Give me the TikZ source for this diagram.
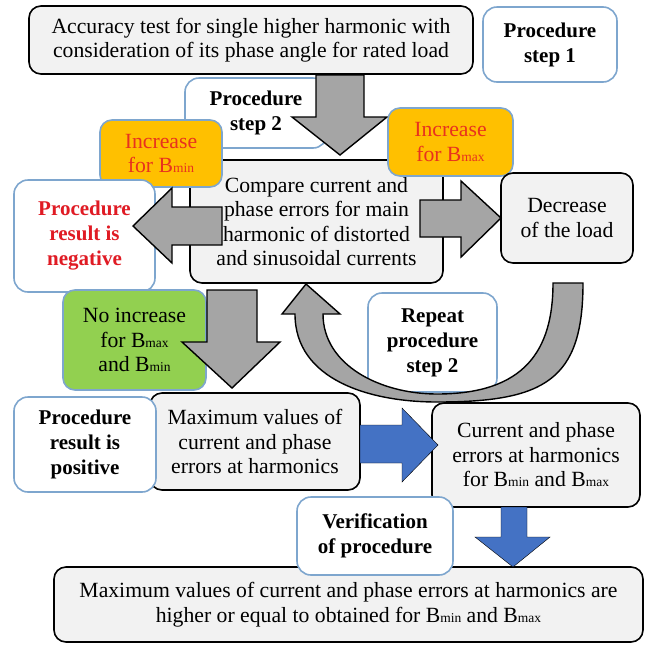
\documentclass[tikz,border=0pt]{standalone}
\usepackage{fontspec}
\setmainfont{Liberation Serif}
\definecolor{boxgray}{HTML}{F2F2F2}
\definecolor{bluebd}{HTML}{7EA6CE}
\definecolor{arrgray}{HTML}{A5A5A5}
\definecolor{arrblue}{HTML}{4472C4}
\definecolor{orangefill}{HTML}{FFC000}
\definecolor{greenfill}{HTML}{92D050}
\definecolor{redtxt}{HTML}{E01B24}
\definecolor{orgtxt}{HTML}{E8321E}
\newcommand{\Bs}[1]{B{\fontsize{13.5pt}{13.5pt}\selectfont #1}}
\begin{document}
\begin{tikzpicture}[x=1pt,y=-1pt,
  graybox/.style={draw=black, line width=1.6pt, fill=boxgray, rounded corners=12pt,
    align=center, inner sep=0pt, font=\fontsize{21.7}{24.5}\selectfont},
  bluebox/.style={draw=bluebd, line width=1.6pt, fill=white, rounded corners=14pt,
    align=center, inner sep=0pt, font=\bfseries\fontsize{21}{25}\selectfont},
  colbox/.style={draw=bluebd, line width=1.6pt, rounded corners=12pt,
    align=center, inner sep=0pt, font=\fontsize{21.7}{24.5}\selectfont},
  garrow/.style={draw=black, line width=1.4pt, fill=arrgray, line join=miter},
  barrow/.style={fill=arrblue}]
\useasboundingbox (0,0) rectangle (650,646);
% top row
\node[graybox, minimum width=444pt, minimum height=68pt] (top) at (251,40)
  {Accuracy test for single higher harmonic with\\consideration of its phase angle for rated load};
\node[bluebox, minimum width=134pt, minimum height=75pt] (step1) at (550,44.5) {Procedure\\step 1};
\node[bluebox, minimum width=142pt, minimum height=70pt] (step2) at (256,113) {Procedure\\step 2};
% arrow top -> center
\draw[garrow] (316,75) -- (364,75) -- (364,117) -- (387,117) -- (340,155) -- (292,117) -- (316,117) -- cycle;
% center box
\node[graybox, minimum width=253pt, minimum height=123pt] (center) at (316.5,221.5)
  {Compare current and\\phase errors for main\\harmonic of distorted\\and sinusoidal currents};
\node[colbox, fill=orangefill, text=orgtxt, minimum width=122pt, minimum height=67pt] (bmin) at (161,153.5)
  {Increase\\for \Bs{min}};
\node[colbox, fill=orangefill, text=orgtxt, minimum width=125pt, minimum height=68pt] (bmax) at (450.5,142)
  {Increase\\for \Bs{max}};
\node[bluebox, text=redtxt, minimum width=141pt, minimum height=112pt] (neg) at (84.5,236)
  {Procedure\\result is\\negative};
% left arrow
\draw[garrow] (222,207) -- (222,245) -- (172,245) -- (172,263) -- (133,226) -- (172,188) -- (172,207) -- cycle;
% decrease box and right arrow
\node[graybox, minimum width=132pt, minimum height=90pt] (dec) at (567,218) {Decrease\\of the load};
\draw[garrow] (420,200) -- (461,200) -- (461,181) -- (501,218) -- (461,257) -- (461,237) -- (420,237) -- cycle;
% green box and down arrow
\node[colbox, fill=greenfill, minimum width=143pt, minimum height=100pt] (green) at (134.5,340)
  {No increase\\for \Bs{max}\\and \Bs{min}};
\draw[garrow] (207,290) -- (257,290) -- (257,342) -- (280,342) -- (232,388) -- (182,342) -- (207,342) -- cycle;
% repeat box and curved arrow
\node[bluebox, minimum width=129pt, minimum height=99pt] (rep) at (432.5,342.5) {Repeat\\procedure\\step 2};
\draw[garrow] (583,283) .. controls (583,380) and (545,402) .. (437,402)
  .. controls (370,402) and (295,380) .. (295,314)
  -- (282,314) -- (306,284) -- (340,314) -- (323,314)
  .. controls (323,365) and (380,394) .. (437,394)
  .. controls (525,394) and (553,350) .. (553,283) -- cycle;
% bottom part
\node[graybox, minimum width=210pt, minimum height=97pt] (maxv) at (255,441.5)
  {Maximum values of\\current and phase\\errors at harmonics};
\node[bluebox, minimum width=142pt, minimum height=95pt] (pos) at (85,444.5) {Procedure\\result is\\positive};
\node[graybox, minimum width=208pt, minimum height=104pt] (cur) at (536,455)
  {Current and phase\\errors at harmonics\\for \Bs{min} and \Bs{max}};
\draw[barrow] (360,425) -- (402,425) -- (402,408) -- (438,445) -- (402,482) -- (402,463) -- (360,463) -- cycle;
\node[graybox, minimum width=589pt, minimum height=75pt] (final) at (348.5,604.5)
  {Maximum values of current and phase errors at harmonics are\\higher or equal to obtained for \Bs{min} and \Bs{max}};
\node[bluebox, minimum width=156pt, minimum height=78pt] (ver) at (375,536) {Verification\\of procedure};
\draw[barrow] (501,507) -- (527,507) -- (527,537) -- (550,537) -- (513,567) -- (475,537) -- (501,537) -- cycle;
\end{tikzpicture}
\end{document}
